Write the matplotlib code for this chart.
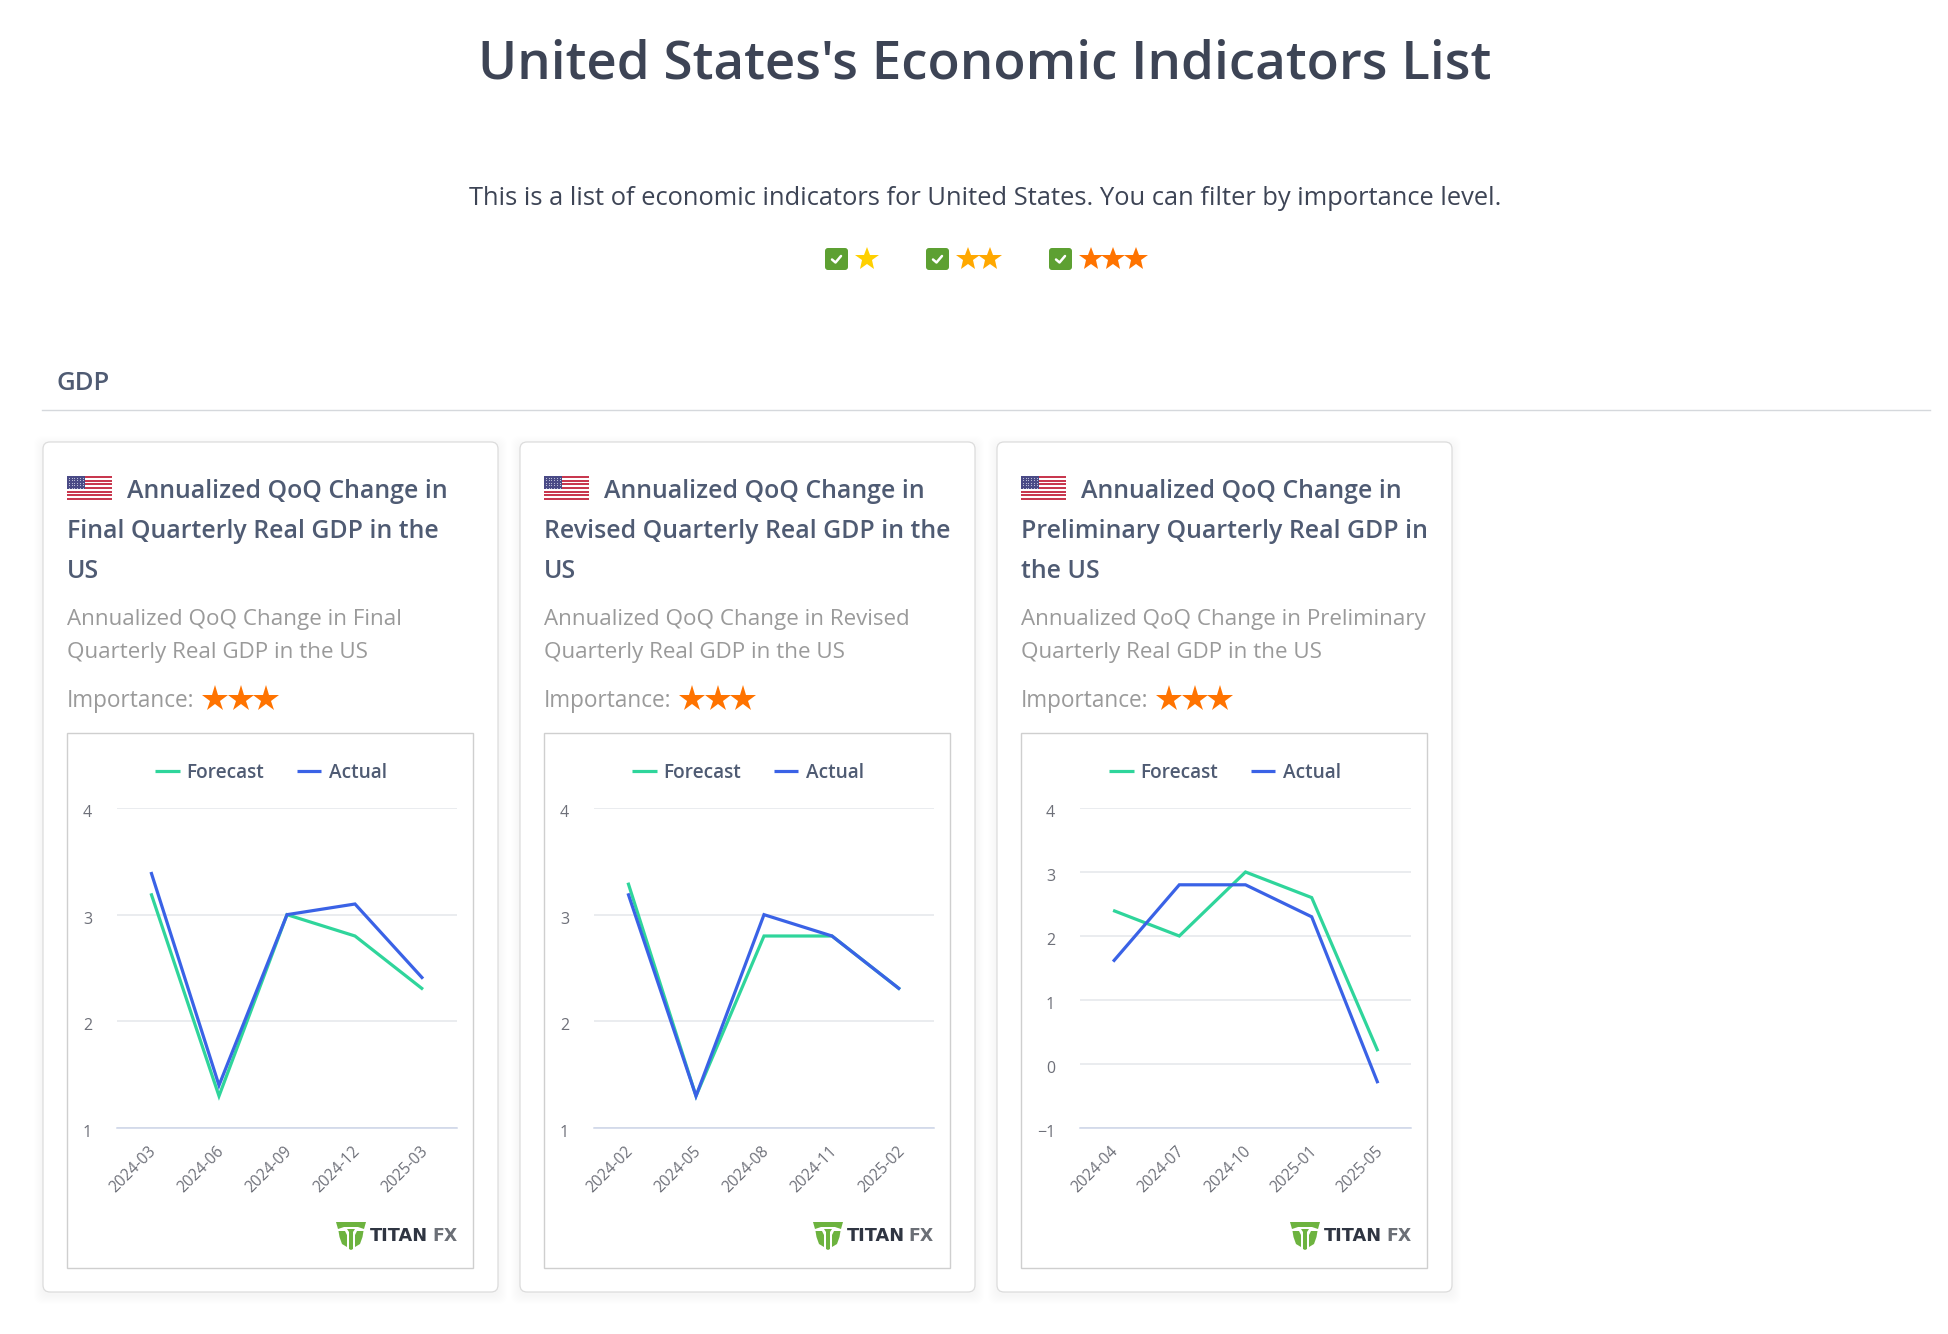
import matplotlib

matplotlib.use("Agg")
import matplotlib.pyplot as plt
from matplotlib.patches import FancyBboxPatch, Polygon, Rectangle
from matplotlib.transforms import ScaledTranslation

W, H = 1948, 1334
DPI = 100

plt.rcParams["font.family"] = ["Open Sans", "DejaVu Sans"]

page_title = "United States's Economic Indicators List"
page_intro = "This is a list of economic indicators for United States. You can filter by importance level."
section = "GDP"

card_titles = [
    ["Annualized QoQ Change in", "Final Quarterly Real GDP in the", "US"],
    ["Annualized QoQ Change in", "Revised Quarterly Real GDP in the", "US"],
    ["Annualized QoQ Change in", "Preliminary Quarterly Real GDP in", "the US"],
]
card_descs = [
    ["Annualized QoQ Change in Final", "Quarterly Real GDP in the US"],
    ["Annualized QoQ Change in Revised", "Quarterly Real GDP in the US"],
    ["Annualized QoQ Change in Preliminary", "Quarterly Real GDP in the US"],
]

months_final = ["2024-03", "2024-06", "2024-09", "2024-12", "2025-03"]
forecast_final = [3.2, 1.3, 3.0, 2.8, 2.3]
actual_final = [3.4, 1.4, 3.0, 3.1, 2.4]

months_revised = ["2024-02", "2024-05", "2024-08", "2024-11", "2025-02"]
forecast_revised = [3.3, 1.3, 2.8, 2.8, 2.3]
actual_revised = [3.2, 1.3, 3.0, 2.8, 2.3]

months_prelim = ["2024-04", "2024-07", "2024-10", "2025-01", "2025-05"]
forecast_prelim = [2.4, 2.0, 3.0, 2.6, 0.2]
actual_prelim = [1.6, 2.8, 2.8, 2.3, -0.3]

ticks_upper = [1, 2, 3, 4]
ticks_wide = [-1, 0, 1, 2, 3, 4]

GREEN = "#2fd59b"
BLUE = "#3a62e6"
TITLE_C = "#3d4455"
HEAD_C = "#4f5b73"
MUTED = "#9a9a9a"
TICK_C = "#6e7079"
LOGO_G = "#6db33f"


def px(size):
    # font sizes below are easier to think about in image pixels
    return size * 72 / DPI


fig = plt.figure(figsize=(W / DPI, H / DPI), dpi=DPI, facecolor="white")
page = fig.add_axes([0, 0, 1, 1])
page.set_xlim(0, W)
page.set_ylim(H, 0)
page.axis("off")


def star(x, y, color, size=25):
    page.plot([x], [y], marker="*", ms=px(size), color=color, mec=color, mew=0, ls="none")


def checkbox(x0):
    page.add_patch(FancyBboxPatch((x0 + 2, 250), 19, 18, boxstyle="round,pad=2,rounding_size=3",
                                  fc="#5da032", ec="none"))
    page.plot([x0 + 7, x0 + 10.5, x0 + 16], [259.5, 262.5, 256], color="white", lw=1.8,
              solid_capstyle="round", solid_joinstyle="round")


def flag(x0, y0, w=45, h=24):
    page.add_patch(Rectangle((x0, y0), w, h, fc="white", ec="none"))
    sh = h / 13
    for i in range(0, 13, 2):
        page.add_patch(Rectangle((x0, y0 + i * sh), w, sh, fc="#c8384f", ec="none"))
    page.add_patch(Rectangle((x0, y0), w * 0.4, sh * 7, fc="#4a4a86", ec="none"))
    for r in range(5):
        for c in range(6):
            page.plot([x0 + 1.8 + c * 2.8], [y0 + 1.6 + r * 2.6], marker=".", ms=1.6, color="#c9cbe0", mew=0)


def logo(right):
    # right = right edge of the plot area, logo sits against it
    x = right - 121
    y = 1222
    shapes = [
        [(0, 0), (30, 0), (28, 7), (22, 5), (8, 5), (2, 7)],
        [(11, 7), (19, 7), (17, 10), (17, 27), (15, 28), (13, 27), (13, 10)],
        [(2.5, 9), (9, 9), (11, 13), (11, 25), (6, 22), (3.5, 15)],
        [(27.5, 9), (21, 9), (19, 13), (19, 25), (24, 22), (26.5, 15)],
    ]
    for shape in shapes:
        page.add_patch(Polygon([(x + a, y + b) for a, b in shape], closed=True, fc=LOGO_G, ec="none"))
    page.text(x + 34, 1236, "TITAN", fontsize=px(17.7), fontweight="bold", color="#2f3542",
              va="center", ha="left", family=["DejaVu Sans"])
    page.text(right, 1236, "FX", fontsize=px(17.2), fontweight="bold", color="#6b6f76",
              va="center", ha="right", family=["DejaVu Sans"])


page.text(985, 65, page_title, ha="center", va="center", fontsize=px(52.9), fontweight="semibold", color=TITLE_C)
page.text(985, 198.5, page_intro, ha="center", va="center", fontsize=px(25.5), color=TITLE_C)

checkbox(825)
star(867, 259, "#ffd000")
checkbox(926)
star(968, 259, "#ffa800")
star(990, 259, "#ffa800")
checkbox(1049)
star(1091, 259, "#ff7300")
star(1113, 259, "#ff7300")
star(1136, 259, "#ff7300")

page.text(57, 383, section, ha="left", va="center", fontsize=px(25.8), fontweight="semibold", color=HEAD_C)
page.plot([42, 1930], [409.5, 409.5], color="#d5d8dc", lw=1)

card_lefts = [43, 520, 997]
chart_data = [
    (months_final, forecast_final, actual_final, ticks_upper),
    (months_revised, forecast_revised, actual_revised, ticks_upper),
    (months_prelim, forecast_prelim, actual_prelim, ticks_wide),
]
plot_boxes = [(117, 457), (594, 934), (1080, 1411)]
label_x = [155, 632, 1109]
PLOT_TOP, PLOT_BOTTOM = 808, 1128

for i in range(3):
    x0 = card_lefts[i]
    # soft shadow around the card, stacked thin layers
    for grow in range(1, 10):
        page.add_patch(FancyBboxPatch((x0 + 6 - grow, 448 - grow + 3), 443 + 2 * grow, 838 + 2 * grow,
                                      boxstyle="round,pad=6,rounding_size=8", fc="black", ec="none", alpha=0.005))
    page.add_patch(FancyBboxPatch((x0 + 6, 448), 443, 838, boxstyle="round,pad=6,rounding_size=7",
                                  fc="white", ec="#dcdcdc", lw=0.9))

    tx = x0 + 24
    flag(tx, 476)
    for j, line in enumerate(card_titles[i]):
        page.text(tx + 60 if j == 0 else tx, 491 + 40 * j, line, ha="left", va="center",
                  fontsize=px(24.9), fontweight="semibold", color=HEAD_C)
    for j, line in enumerate(card_descs[i]):
        page.text(tx, 619 + 33.5 * j, line, ha="left", va="center", fontsize=px(22.4), color=MUTED)
    page.text(tx, 701, "Importance:", ha="left", va="center", fontsize=px(22.6), color=MUTED)
    for k in range(3):
        star(tx + 148 + 25.5 * k, 699, "#ff7300", size=28)

    # inner chart frame
    page.add_patch(Rectangle((tx, 733), 406, 534.5, fc="white", ec="#cfcfcf", lw=1))
    logo(plot_boxes[i][1])

    months, forecast, actual, yticks = chart_data[i]
    left, right = plot_boxes[i]
    ax = fig.add_axes([left / W, 1 - PLOT_BOTTOM / H, (right - left) / W, (PLOT_BOTTOM - PLOT_TOP) / H])
    ax.patch.set_alpha(0)
    ax.plot(range(len(months)), forecast, color=GREEN, lw=2.3, label="Forecast",
            solid_joinstyle="miter", solid_capstyle="butt", zorder=3)
    ax.plot(range(len(months)), actual, color=BLUE, lw=2.3, label="Actual",
            solid_joinstyle="miter", solid_capstyle="butt", zorder=4)
    ax.set_xlim(-0.5, len(months) - 0.5)
    ax.set_ylim(yticks[0], yticks[-1])
    ax.set_yticks(yticks)
    ax.set_yticklabels([str(t).replace("-", "\u2212") for t in yticks])
    ax.set_xticks(range(len(months)))
    ax.set_xticklabels(months, rotation=45, ha="right", va="top", rotation_mode="anchor")
    ax.tick_params(axis="x", length=0, pad=11, labelsize=px(15.5), labelcolor=TICK_C)
    ax.tick_params(axis="y", length=0, pad=18, labelsize=px(16), labelcolor=TICK_C)
    # the y labels sit a little under their grid lines in the original
    nudge = ScaledTranslation(0, -3 / DPI, fig.dpi_scale_trans)
    for lab in ax.get_yticklabels():
        lab.set_transform(lab.get_transform() + nudge)
    shift = ScaledTranslation(-3 / DPI, 0, fig.dpi_scale_trans)
    for lab in ax.get_xticklabels():
        lab.set_transform(lab.get_transform() + shift)
    ax.grid(axis="y", color="#e8eaee", lw=1.3)
    ax.grid(axis="x", visible=False)
    ax.set_axisbelow(True)
    for name in ("top", "left", "right"):
        ax.spines[name].set_visible(False)
    ax.spines["bottom"].set_color("#cdd5e8")
    ax.spines["bottom"].set_linewidth(1.1)

    leg = ax.legend(
        ncol=2, frameon=False, loc="center left",
        bbox_to_anchor=((label_x[i] - left) / (right - left), 1 + (PLOT_TOP - 772.5) / (PLOT_BOTTOM - PLOT_TOP)),
        handlelength=1.3, handletextpad=0.37, columnspacing=1.7,
        borderpad=0, borderaxespad=0,
        prop={"weight": "semibold", "size": px(19)},
    )
    for text in leg.get_texts():
        text.set_color(HEAD_C)

fig.savefig("out.png", dpi=DPI, facecolor="white")
